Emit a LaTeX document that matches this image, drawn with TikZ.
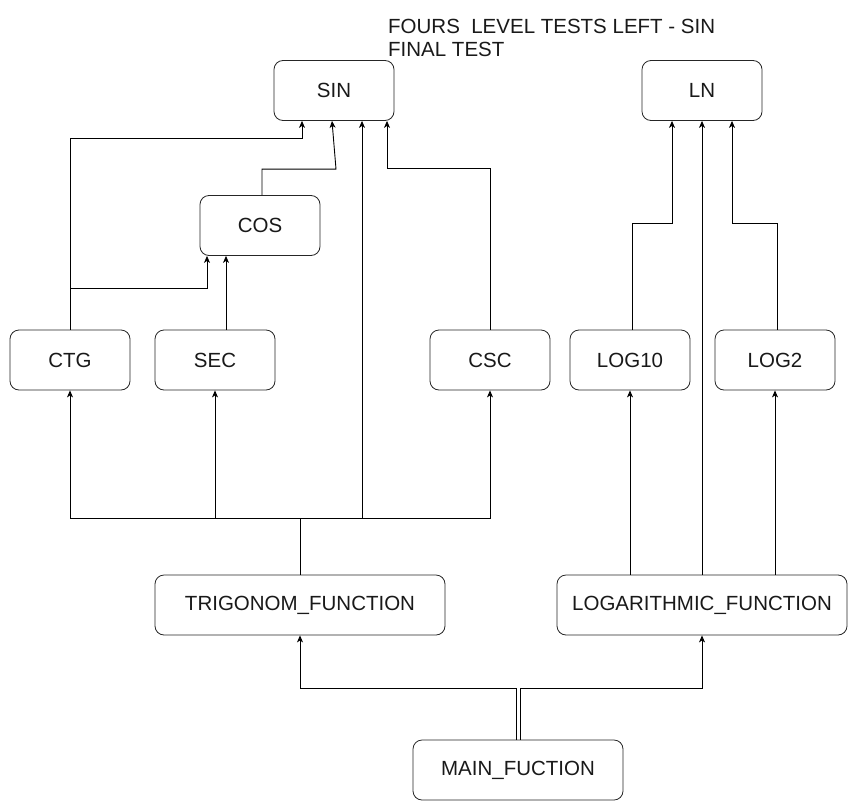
\documentclass[tikz,border=0pt]{standalone}
\usepackage{fontspec}
\setmainfont{Liberation Sans}
\usetikzlibrary{arrows.meta,calc}
\begin{document}
\begin{tikzpicture}[x=1pt,y=-1pt,
  box/.style={draw=black!85,line width=0.8pt,rounded corners=9pt,rectangle,minimum width=120pt,minimum height=60pt,inner sep=0pt,font=\fontsize{20.5}{23}\selectfont,text=black!90},
  wide/.style={box,minimum width=290pt},
  arr/.style={-{Stealth[length=7pt,width=6pt,inset=2pt]},line width=0.9pt},
  ln/.style={line width=0.9pt}]
\useasboundingbox (0,0) rectangle (859,811);
\node[box] (SIN) at (334,90.5) {SIN};
\node[box] (LN) at (702,90.5) {LN};
\node[box] (COS) at (260,225.5) {COS};
\node[box] (CTG) at (70,360) {CTG};
\node[box] (SEC) at (215,360) {SEC};
\node[box] (CSC) at (490,360) {CSC};
\node[box] (LOG10) at (630,360) {LOG10};
\node[box] (LOG2) at (775,360) {LOG2};
\node[wide] (TRIG) at (300,605) {TRIGONOM\_FUNCTION};
\node[wide] (LOGF) at (702,605) {LOGARITHMIC\_FUNCTION};
\node[box,minimum width=210pt] (MAIN) at (518,770) {MAIN\_FUCTION};
\node[anchor=base west,inner sep=0pt,align=left,font=\fontsize{20.5}{23}\selectfont,text=black!90] (title) at (388,56) {FOURS\ \ LEVEL TESTS LEFT - SIN\\FINAL TEST};
% main
\draw[arr] ([xshift=-2pt]MAIN.north) -- ++(0,-51) -| (TRIG.south);
\draw[arr] ([xshift=2pt]MAIN.north) -- ++(0,-51) -| (LOGF.south);
% trig
\draw[arr] (TRIG.north) -- ++(0,-56) -| (CTG.south);
\draw[arr] (TRIG.north) -- ++(0,-56) -| (SEC.south);
\draw[arr] (TRIG.north) -- ++(0,-56) -| ([xshift=28pt]SIN.south);
\draw[arr] (TRIG.north) -- ++(0,-56) -| (CSC.south);
% ctg
\draw[arr] (CTG.north) -- ++(0,-191) -| ([xshift=-32pt]SIN.south);
\draw[arr] (CTG.north) -- ++(0,-41) -| ([xshift=-53pt]COS.south);
% sec
\draw[arr] ([xshift=11pt]SEC.north) -- ([xshift=-34pt]COS.south);
% cos
\draw[arr] ([xshift=2pt]COS.north) -- ++(0,-26) -- ++(74,0) -- ([xshift=-2pt]SIN.south);
% csc
\draw[arr] (CSC.north) -- ++(0,-161) -| ([xshift=53pt]SIN.south);
% log
\draw[arr] (LOG10.south |- LOGF.north) -- (LOG10.south);
\draw[arr] (LOGF.north) -- (LN.south);
\draw[arr] (LOG2.south |- LOGF.north) -- (LOG2.south);
\draw[arr] ([xshift=2pt]LOG10.north) -- ++(0,-106) -| ([xshift=-30pt]LN.south);
\draw[arr] ([xshift=2pt]LOG2.north) -- ++(0,-106) -| ([xshift=30pt]LN.south);
\end{tikzpicture}
\end{document}
